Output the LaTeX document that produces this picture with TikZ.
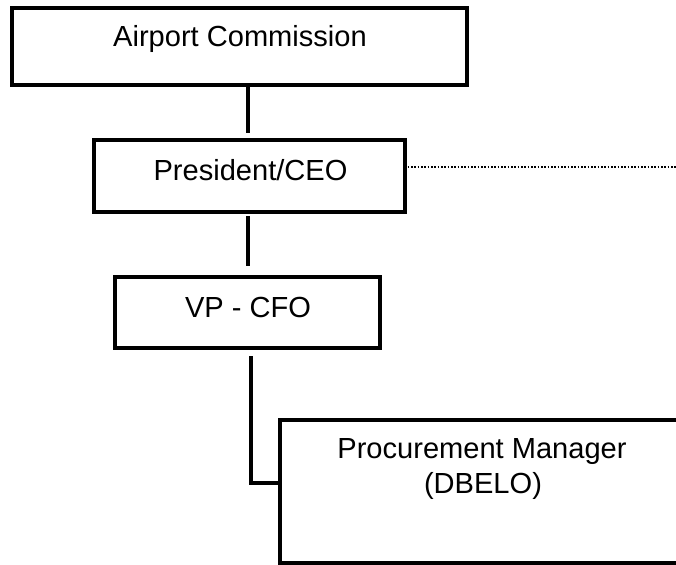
\documentclass[tikz,border=0pt]{standalone}
\usepackage{fontspec}
\setmainfont{Liberation Sans}
\begin{document}
\begin{tikzpicture}[x=0.75pt,y=-0.75pt,
  box/.style={draw=black, line width=3.2pt, inner sep=0pt, outer sep=0pt, fill=white},
  lbl/.style={font=\fontsize{21.8pt}{26pt}\selectfont, anchor=base, inner sep=0pt},
  conn/.style={draw=black, line width=2.8pt},
  dotline/.style={draw=black, line width=1.1pt, dash pattern=on 1.2pt off 1.3pt}]
\useasboundingbox (0,0) rectangle (676,565);
% boxes
\node[box, minimum width=341.25pt, minimum height=57.75pt] (AC) at (239.5,46.5) {};
\node[box, minimum width=233.25pt, minimum height=54pt] (PC) at (249.5,176) {};
\node[box, minimum width=198.75pt, minimum height=53.25pt] (VP) at (247.5,312.5) {};
\node[box, minimum width=303pt, minimum height=107.25pt] (PM) at (482,491.5) {};
% texts
\node[lbl] (ACt) at (240,46) {Airport Commission};
\node[lbl] (PCt) at (250.5,180) {President/CEO};
\node[lbl] (VPt) at (248,317) {VP - CFO};
\node[lbl] (PMt1) at (482,458) {Procurement Manager};
\node[lbl] (PMt2) at (483,493) {(DBELO)};
% connectors
\draw[conn, shorten >=5pt] (AC.south -| 248,0) -- (PC.north -| 248,0);
\draw[conn, shorten <=3pt, shorten >=8pt] (PC.south -| 248,0) -- (VP.north -| 248,0);
\draw[conn, shorten <=6pt] ([xshift=2.6pt]VP.south) |- ([yshift=6.5pt]PM.west);
\coordinate (R) at (676,167);
\draw[dotline] ([xshift=2pt]PC.east |- R) -- (R);
\end{tikzpicture}
\end{document}
